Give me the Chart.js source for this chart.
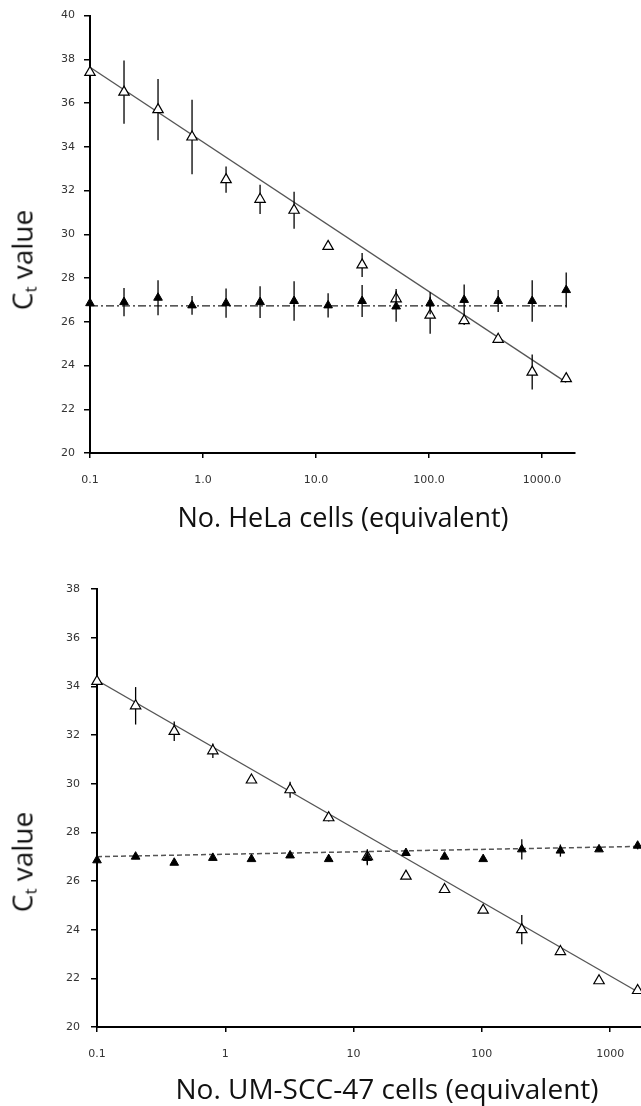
<!DOCTYPE html>
<html>
<head>
<meta charset="utf-8">
<script src="https://cdn.jsdelivr.net/npm/chart.js@4.4.1/dist/chart.umd.min.js"></script>
<style>
  html, body { margin: 0; padding: 0; background: #fff; }
  body { width: 641px; height: 1106px; position: relative; overflow: hidden; }
  .wrap { position: absolute; left: 0; width: 641px; }
  .title { position: absolute; font-family: "Open Sans", Lato, sans-serif; font-size: 27px; color: #111;
    white-space: nowrap; line-height: 1; }
  .xtitle { transform: translate(-50%, -50%); }
  .ytitle { font-size: 28px; transform: translate(-50%, -50%) rotate(-90deg); }
  .ytitle sub { font-size: 17px; vertical-align: -4px; }
</style>
</head>
<body>
<div class="wrap" style="top:0;height:560px"><canvas id="chart-hela"></canvas></div>
<div class="wrap" style="top:560px;height:546px"><canvas id="chart-um"></canvas></div>
<div class="title ytitle" style="left:23px;top:260px">C<sub>t</sub> value</div>
<div class="title xtitle" style="left:343px;top:516px">No. HeLa cells (equivalent)</div>
<div class="title ytitle" style="left:23px;top:862px">C<sub>t</sub> value</div>
<div class="title xtitle" style="left:387px;top:1088px;font-size:28px">No. UM-SCC-47 cells (equivalent)</div>
<script>
// cell numbers (equivalent), 2-fold dilution series
const cells = [0.1, 0.2, 0.4, 0.8, 1.6, 3.2, 6.4, 12.8, 25.6, 51.2, 102.4, 204.8, 409.6, 819.2, 1638.4];
const fitX = [0.1, 1638.4];

// HeLa panel
const helaOpen = [37.4, 36.5, 35.7, 34.45, 32.5, 31.6, 31.1, 29.45, 28.6, 27.05, 26.3, 26.05, 25.2, 23.7, 23.4];
const helaOpenErr = [0.1, 1.45, 1.4, 1.7, 0.6, 0.67, 0.85, 0.1, 0.55, 0.45, 0.85, 0.2, 0.15, 0.8, 0.1];
const helaFilled = [26.85, 26.9, 27.1, 26.75, 26.85, 26.9, 26.95, 26.75, 26.95, 26.7, 26.85, 27.0, 26.95, 26.95, 27.45];
const helaFilledErr = [0.3, 0.65, 0.8, 0.43, 0.67, 0.73, 0.9, 0.55, 0.73, 0.7, 0.5, 0.7, 0.5, 0.95, 0.8];
const helaFit = [37.64, 23.23];
const helaFlat = [26.73, 26.73];
const helaTicks = [0.1, 1, 10, 100, 1000];
const helaTickLabels = ['0.1', '1.0', '10.0', '100.0', '1000.0'];

// UM-SCC-47 panel
const umOpen = [34.2, 33.2, 32.15, 31.35, 30.15, 29.75, 28.6, 27.0, 26.2, 25.65, 24.8, 24.0, 23.1, 21.9, 21.5];
const umOpenErr = [0.1, 0.77, 0.4, 0.3, 0.05, 0.33, 0.15, 0.3, 0.05, 0.05, 0.05, 0.6, 0.05, 0.05, 0.05];
const umFilled = [26.85, 27.0, 26.75, 26.95, 26.9, 27.05, 26.9, 26.95, 27.15, 27.0, 26.9, 27.3, 27.25, 27.3, 27.45];
const umFilledErr = [0.05, 0.1, 0.05, 0.1, 0.05, 0.05, 0.05, 0.3, 0.05, 0.05, 0.05, 0.42, 0.25, 0.1, 0.15];
const umFit = [34.25, 21.45];
const umFlat = [27.0, 27.42];
const umTicks = [0.1, 1, 10, 100, 1000];
const umTickLabels = ['0.1', '1', '10', '100', '1000'];

const TICK_FONT = { family: '"DejaVu Sans", Verdana, sans-serif', size: 11 };
const pts = (xs, ys) => xs.map((x, i) => ({ x, y: ys[i] }));

// vertical error bars, drawn just before the points of each dataset
const errorBars = {
  id: 'errorBars',
  beforeDatasetDraw(chart, args) {
    const ds = chart.data.datasets[args.index];
    if (!ds.errors) return;
    const { ctx, scales: { x, y } } = chart;
    ctx.save();
    ctx.strokeStyle = '#000';
    ctx.lineWidth = 1.3;
    ds.data.forEach((p, i) => {
      const px = x.getPixelForValue(p.x);
      ctx.beginPath();
      ctx.moveTo(px, y.getPixelForValue(p.y + ds.errors[i]));
      ctx.lineTo(px, y.getPixelForValue(p.y - ds.errors[i]));
      ctx.stroke();
    });
    ctx.restore();
  }
};

function makeChart(id, o) {
  const axisGrid = { display: true, drawOnChartArea: false, drawTicks: true, tickLength: 6, color: '#000', lineWidth: 1.5 };
  return new Chart(document.getElementById(id), {
    type: 'scatter',
    data: {
      datasets: [
        { type: 'line', data: pts(fitX, o.fit), borderColor: '#555', borderWidth: 1.3, pointRadius: 0, fill: false, order: 3 },
        { type: 'line', data: pts(fitX, o.flat), borderColor: o.flatColor, borderWidth: o.flatWidth, borderDash: o.dash, pointRadius: 0, fill: false, order: 2 },
        { data: pts(cells, o.open), errors: o.openErr, pointStyle: 'triangle', pointRadius: 6, backgroundColor: '#fff', borderColor: '#000', borderWidth: 1.2, clip: false, order: 1 },
        { data: pts(cells, o.filled), errors: o.filledErr, pointStyle: 'triangle', pointRadius: 5, backgroundColor: '#000', borderColor: '#000', borderWidth: 1, clip: false, order: 0 },
      ]
    },
    options: {
      responsive: true, maintainAspectRatio: false, animation: false,
      layout: { autoPadding: false, padding: { left: 0, top: o.top, right: o.right, bottom: 0 } },
      plugins: { legend: { display: false }, tooltip: { enabled: false } },
      scales: {
        x: {
          type: 'logarithmic', min: 0.1, max: o.xMax,
          afterBuildTicks: s => { s.ticks = o.ticks.map(v => ({ value: v })); },
          afterFit: s => { s.height = o.xHeight; s.paddingLeft = 0; s.paddingRight = 0; },
          grid: { ...axisGrid, tickLength: 5 },
          border: { display: true, color: '#000', width: 2 },
          ticks: { autoSkip: false, maxRotation: 0, padding: o.xPad, color: '#333', font: TICK_FONT,
            callback: (v, i) => o.tickLabels[i] }
        },
        y: {
          min: o.yMin, max: o.yMax,
          afterFit: s => { s.width = o.yWidth; },
          grid: axisGrid,
          border: { display: true, color: '#000', width: 2 },
          ticks: { stepSize: 2, padding: o.yPad, color: '#333', font: TICK_FONT }
        }
      }
    },
    plugins: [errorBars]
  });
}

makeChart('chart-hela', {
  fit: helaFit, flat: helaFlat, open: helaOpen, openErr: helaOpenErr, filled: helaFilled, filledErr: helaFilledErr,
  dash: [8, 3, 2, 3], flatColor: '#222', flatWidth: 1.2,
  ticks: helaTicks, tickLabels: helaTickLabels,
  xMax: 1960, yMin: 20, yMax: 40, top: 15, right: 66, xHeight: 107, yWidth: 90, yPad: 9, xPad: 16
});

makeChart('chart-um', {
  fit: umFit, flat: umFlat, open: umOpen, openErr: umOpenErr, filled: umFilled, filledErr: umFilledErr,
  dash: [5, 3], flatColor: '#555', flatWidth: 1.5,
  ticks: umTicks, tickLabels: umTickLabels,
  xMax: 1740, yMin: 20, yMax: 38, top: 29, right: 0, xHeight: 79, yWidth: 97, yPad: 11, xPad: 16
});
</script>
</body>
</html>
